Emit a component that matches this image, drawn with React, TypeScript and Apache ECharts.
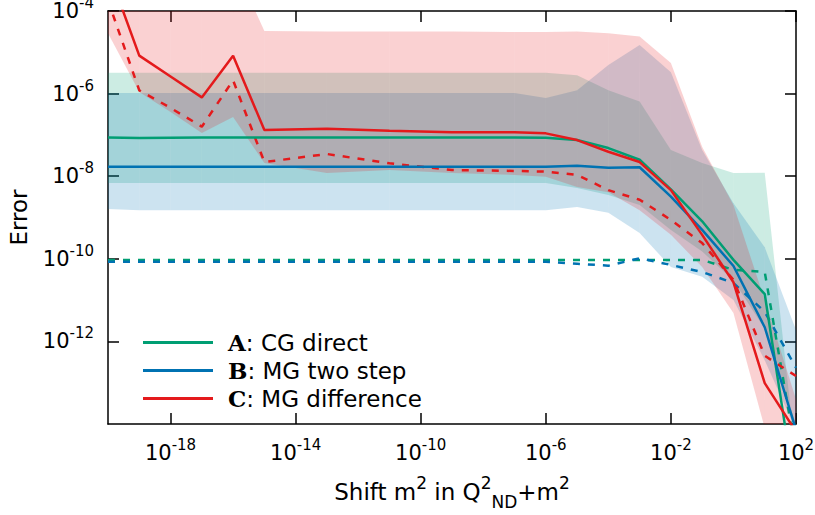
import React, { useEffect, useRef } from "react";
import * as echarts from "echarts";

// Shift m^2 sample points
const shifts = [1e-20, 1e-19, 1e-18, 1e-17, 1e-16, 1e-15, 1e-13, 1e-11, 1e-9, 1e-7, 1e-6, 1e-5, 1e-4, 1e-3, 1e-2, 1e-1, 1, 10, 100];

// A: CG direct
const cgDirect = [8.6e-8, 8.4e-8, 8.5e-8, 8.6e-8, 8.6e-8, 8.6e-8, 8.6e-8, 8.6e-8, 8.6e-8, 8.6e-8, 8.5e-8, 7.5e-8, 4.8e-8, 2.5e-8, 4.8e-9, 8.1e-10, 9.4e-11, 1.4e-11, 1.7e-16];
const cgDirectDashed = [9.3e-11, 9.3e-11, 9.3e-11, 9.3e-11, 9.3e-11, 9.3e-11, 9.3e-11, 9.3e-11, 9.3e-11, 9.3e-11, 9.3e-11, 9.3e-11, 9.3e-11, 9.3e-11, 9.3e-11, 9.4e-11, 5.4e-11, 4.8e-11, 1.9e-15];
const cgDirectLow = [6.8e-9, 6.8e-9, 6.8e-9, 6.8e-9, 6.8e-9, 6.8e-9, 6.8e-9, 6.8e-9, 6.8e-9, 6.8e-9, 6.8e-9, 5.2e-9, 3.5e-9, 2.0e-9, 5.0e-10, 1.5e-10, 3e-11, 2e-12, 1e-14];
const cgDirectHigh = [3.2e-6, 3.2e-6, 3.2e-6, 3.2e-6, 3.2e-6, 3.2e-6, 3.2e-6, 3.2e-6, 3.2e-6, 3.2e-6, 3.2e-6, 2.8e-6, 1.2e-6, 6.4e-7, 4.3e-8, 2.1e-8, 1.19e-8, 1.22e-8, 1.5e-15];

// B: MG two step
const mgTwoStep = [1.7e-8, 1.7e-8, 1.7e-8, 1.7e-8, 1.7e-8, 1.7e-8, 1.7e-8, 1.7e-8, 1.7e-8, 1.7e-8, 1.7e-8, 1.8e-8, 1.6e-8, 1.65e-8, 3.2e-9, 5.0e-10, 6.7e-11, 2.2e-12, 7.2e-15];
const mgTwoStepDashed = [8.5e-11, 8.5e-11, 8.5e-11, 8.5e-11, 8.5e-11, 8.5e-11, 8.5e-11, 8.5e-11, 8.5e-11, 8.5e-11, 8.5e-11, 7.6e-11, 6.8e-11, 1.03e-10, 7.1e-11, 4.8e-11, 2.6e-11, 5.2e-12, 2.3e-13];
const mgTwoStepLow = [1.6e-9, 1.5e-9, 1.5e-9, 1.5e-9, 1.5e-9, 1.5e-9, 1.5e-9, 1.5e-9, 1.5e-9, 1.5e-9, 1.5e-9, 1.8e-9, 1.3e-9, 4.2e-10, 6.3e-11, 3.7e-11, 1e-11, 3.5e-13, 7e-15];
const mgTwoStepHigh = [1.03e-6, 1.03e-6, 1.03e-6, 1.03e-6, 1.03e-6, 1.03e-6, 1.03e-6, 1.03e-6, 1.03e-6, 1.03e-6, 7.8e-7, 1.2e-6, 4.9e-6, 1.5e-5, 3.3e-6, 4.3e-8, 2.2e-9, 1.9e-10, 1.9e-12];

// C: MG difference
const mgDiff = [1.0e-3, 8.3e-6, 2.6e-6, 8.1e-7, 8.3e-6, 1.31e-7, 1.41e-7, 1.26e-7, 1.16e-7, 1.16e-7, 1.09e-7, 7.5e-8, 3.9e-8, 2.2e-8, 4.6e-9, 3.8e-10, 2.7e-11, 9.8e-14, 6.5e-15];
const mgDiffDashed = [1.8e-4, 1.2e-6, 4.5e-7, 1.58e-7, 2.1e-6, 2.2e-8, 3.45e-8, 2.05e-8, 1.41e-8, 1.34e-8, 1.29e-8, 1.07e-8, 4.6e-9, 2.7e-9, 8.7e-10, 2.4e-10, 3.1e-11, 4.5e-13, 1.45e-13];
const mgDiffLow = [2.9e-5, 1.1e-6, 3.6e-7, 1.11e-7, 2.7e-7, 2.1e-8, 1.19e-8, 1.41e-8, 1.19e-8, 1.07e-8, 9.7e-9, 5.5e-9, 4.1e-9, 1.5e-9, 3.8e-10, 6.3e-11, 4.9e-12, 8e-15, 9e-18];
const mgDiffHigh = [2e-3, 2e-3, 2e-3, 2e-3, 1.5e-3, 3.3e-5, 3.2e-5, 3.2e-5, 3.2e-5, 3.1e-5, 3.1e-5, 3.2e-5, 2.9e-5, 2.4e-5, 5.5e-6, 5.1e-8, 2.0e-9, 1.0e-11, 4e-14];

const legendKeys = ["A", "B", "C"];
const legendNames = ["CG direct", "MG two step", "MG difference"];
const xTicks = [1e-18, 1e-14, 1e-10, 1e-6, 1e-2, 1e2];
const yTicks = [1e-12, 1e-10, 1e-8, 1e-6, 1e-4];
const referenceLevel = 1e-10;

const GREEN = "#009e73";
const BLUE = "#0072b2";
const RED = "#e41a1c";
const FONT = "DejaVu Sans";

const powLabel = (v: number) => `{b|10}{s|${Math.round(Math.log10(v))}}`;
const powRich = {
  b: { fontSize: 21, fontFamily: FONT, color: "#000", lineHeight: 21 },
  s: { fontSize: 15, fontFamily: FONT, color: "#000", lineHeight: 15, padding: [0, 0, 16, 0] },
};

function band(name: string, low: number[], high: number[], fill: string) {
  return {
    type: "custom",
    name,
    clip: true,
    silent: true,
    z: 1,
    data: shifts.map((x, i) => [x, low[i], high[i]]),
    encode: { x: 0, y: [1, 2] },
    renderItem: (params: any, api: any) => {
      const i = params.dataIndex;
      if (i >= shifts.length - 1) return null;
      const p1 = api.coord([shifts[i], high[i]]);
      const p2 = api.coord([shifts[i + 1], high[i + 1]]);
      const p3 = api.coord([shifts[i + 1], low[i + 1]]);
      const p4 = api.coord([shifts[i], low[i]]);
      return { type: "polygon", shape: { points: [p1, p2, p3, p4] }, style: { fill } };
    },
  };
}

function line(name: string, vals: number[], color: string, dashed: boolean, extra: any = {}) {
  return {
    type: "line",
    name,
    data: shifts.map((x, i) => [x, vals[i]]),
    showSymbol: false,
    symbol: "none",
    clip: true,
    z: dashed ? 3 : 4,
    lineStyle: { color, width: 2.5, type: dashed ? [7, 8] : "solid" },
    itemStyle: { color },
    ...extra,
  };
}

export default function App() {
  const ref = useRef<HTMLDivElement>(null);
  useEffect(() => {
    document.body.style.margin = "0";
    const chart = echarts.init(ref.current!, null, { renderer: "svg" });
    const axisCommon = {
      type: "log",
      logBase: 10,
      splitLine: { show: false },
      minorTick: { show: false },
      axisLine: { show: true, lineStyle: { color: "#000", width: 1.5 } },
    };
    chart.setOption({
      animation: false,
      backgroundColor: "#fff",
      grid: { left: 108, right: 19, top: 11, bottom: 91, containLabel: false, outerBoundsMode: "none" },
      legend: {
        data: legendKeys,
        orient: "vertical",
        left: 138,
        top: 326,
        icon: "rect",
        itemWidth: 70,
        itemHeight: 3,
        itemGap: 5,
        formatter: (n: string) => `{b|${n}}{r|: ${legendNames[legendKeys.indexOf(n)]}}`,
        textStyle: {
          padding: [0, 0, 0, 10],
          rich: {
            b: { fontFamily: "DejaVu Serif", fontWeight: "bold", fontSize: 23, lineHeight: 26, color: "#000" },
            r: { fontFamily: FONT, fontSize: 23, lineHeight: 26, color: "#000" },
          },
        },
      },
      xAxis: [
        {
          ...axisCommon,
          position: "bottom",
          min: 1e-20,
          max: 1e2,
          axisTick: { show: true, inside: true, length: 11, customValues: xTicks, lineStyle: { color: "#000", width: 1.5 } },
          axisLabel: { show: true, customValues: xTicks, formatter: powLabel, rich: powRich, margin: 18 },
          name: "{t|Shift m}{p|2}{t| in Q}{p|2}{d|ND}{t|+m}{p|2}",
          nameLocation: "middle",
          nameGap: 56,
          nameTextStyle: {
            rich: {
              t: { fontSize: 23, fontFamily: FONT, color: "#000", lineHeight: 23 },
              p: { fontSize: 17, fontFamily: FONT, color: "#000", lineHeight: 17, padding: [0, 0, 17, 0] },
              d: { fontSize: 17, fontFamily: FONT, color: "#000", lineHeight: 17, padding: [21, 0, 0, 0] },
            },
          },
        },
        {
          ...axisCommon,
          position: "top",
          min: 1e-20,
          max: 1e2,
          axisTick: { show: true, inside: true, length: 11, customValues: xTicks, lineStyle: { color: "#000", width: 1.5 } },
          axisLabel: { show: false },
        },
      ],
      yAxis: [
        {
          ...axisCommon,
          position: "left",
          min: 1e-14,
          max: 1e-4,
          axisTick: { show: true, inside: true, length: 11, customValues: yTicks, lineStyle: { color: "#000", width: 1.5 } },
          axisLabel: { show: true, customValues: yTicks, formatter: powLabel, rich: powRich, margin: 14 },
          name: "Error",
          nameLocation: "middle",
          nameGap: 78,
          nameTextStyle: { fontSize: 23, fontFamily: FONT, color: "#000" },
        },
        {
          ...axisCommon,
          position: "right",
          min: 1e-14,
          max: 1e-4,
          axisTick: { show: true, inside: true, length: 11, customValues: yTicks, lineStyle: { color: "#000", width: 1.5 } },
          axisLabel: { show: false },
        },
      ],
      series: [
        band("A band", cgDirectLow, cgDirectHigh, "rgba(0,158,115,0.2)"),
        band("B band", mgTwoStepLow, mgTwoStepHigh, "rgba(0,114,178,0.2)"),
        band("C band", mgDiffLow, mgDiffHigh, "rgba(228,26,28,0.2)"),
        line("A dashed", cgDirectDashed, GREEN, true),
        line("B dashed", mgTwoStepDashed, BLUE, true, {
          markLine: {
            silent: true,
            symbol: ["none", "none"],
            label: { show: false },
            lineStyle: { color: "#000", width: 1.5, type: "solid" },
            data: [{ yAxis: referenceLevel }],
          },
        }),
        line("C dashed", mgDiffDashed, RED, true),
        line("A", cgDirect, GREEN, false),
        line("B", mgTwoStep, BLUE, false),
        line("C", mgDiff, RED, false),
      ],
    });
    return () => chart.dispose();
  }, []);
  return <div ref={ref} style={{ width: 815, height: 515 }} />;
}
